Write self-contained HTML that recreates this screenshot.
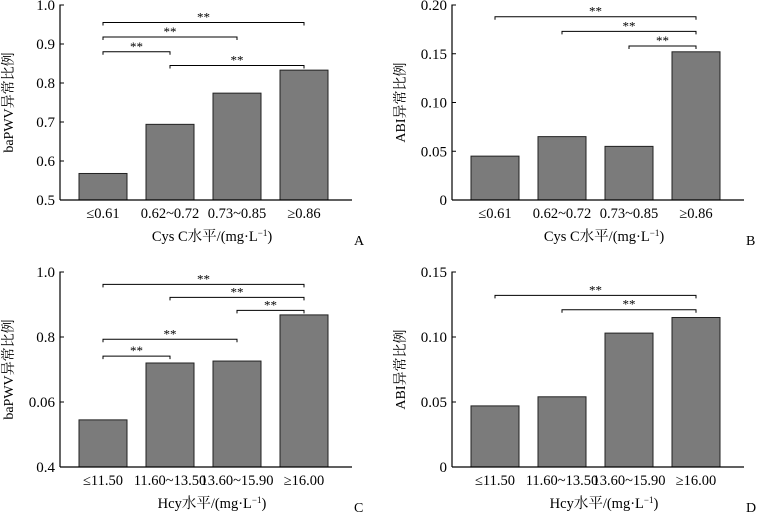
<!DOCTYPE html>
<html><head><meta charset="utf-8">
<style>
html,body{margin:0;padding:0;background:#fff;}
svg{display:block;font-family:"Liberation Serif","Noto Serif CJK SC",serif;}
</style></head>
<body>
<svg id="chart" width="759" height="512" viewBox="0 0 759 512" xmlns="http://www.w3.org/2000/svg"></svg>
<script>
const cysCategories = ["≤0.61","0.62~0.72","0.73~0.85","≥0.86"];
const hcyCategories = ["≤11.50","11.60~13.50","13.60~15.90","≥16.00"];
const valuesA = [0.568, 0.694, 0.774, 0.833];
const valuesB = [0.045, 0.065, 0.055, 0.152];
const valuesC = [0.545, 0.720, 0.726, 0.868];
const valuesD = [0.047, 0.054, 0.103, 0.115];
const ticksA = [0.5,0.6,0.7,0.8,0.9,1.0];
const tickLabelsA = ["0.5","0.6","0.7","0.8","0.9","1.0"];
const ticksB = [0,0.05,0.10,0.15,0.20];
const tickLabelsB = ["0","0.05","0.10","0.15","0.20"];
const ticksC = [0.4,0.6,0.8,1.0];
const tickLabelsC = ["0.4","0.06","0.8","1.0"];
const ticksD = [0,0.05,0.10,0.15];
const tickLabelsD = ["0","0.05","0.10","0.15"];
// significance brackets: [fromIndex, toIndex, level value]
const sigA = [[0,3,0.955],[0,2,0.918],[0,1,0.880],[1,3,0.845]];
const sigB = [[0,3,0.188],[1,3,0.173],[2,3,0.158]];
const sigC = [[0,3,0.962],[1,3,0.922],[2,3,0.882],[0,2,0.793],[0,1,0.741]];
const sigD = [[0,3,0.132],[1,3,0.121]];

const NS="http://www.w3.org/2000/svg";
const svg=document.getElementById('chart');
function mk(tag,attrs,parent){const e=document.createElementNS(NS,tag);for(const k in attrs)e.setAttribute(k,attrs[k]);(parent||svg).appendChild(e);return e;}

function panel(o){
  const g=mk('g',{});
  
  
  const y=v=>o.y1+(o.y0-o.y1)*(v-o.min)/(o.max-o.min);
  const step=67, bw=48;
  const bx=i=>o.ax+19+i*step;
  const cx=i=>bx(i)+bw/2;
  const ya=mk('line',{x1:o.ax,y1:o.y1,x2:o.ax,y2:o.y0-0.5,stroke:'#000','stroke-width':1.2},g);
  
  
  o.ticks.forEach((t,i)=>{
    mk('line',{x1:o.ax,x2:o.ax+4,y1:y(t),y2:y(t),stroke:'#000','stroke-width':1},g);
    const tx=mk('text',{x:o.ax-5,y:y(t)+5,'text-anchor':'end','font-size':15},g);
    tx.textContent=o.tickLabels[i];
    
    
  });
  o.values.forEach((v,i)=>{
    const r=mk('rect',{x:bx(i),y:y(v),width:bw,height:o.y1-y(v),fill:'#7b7b7b',stroke:'#222','stroke-width':1},g);
    
    
    const tx=mk('text',{x:cx(i),y:o.y1+18,'text-anchor':'middle','font-size':14.5},g);
    tx.textContent=o.cats[i];
    
    
  });
  const xa=mk('line',{x1:o.ax,y1:o.y1,x2:o.ax+292,y2:o.y1,stroke:'#000','stroke-width':1.2},g);
  
  
  o.sig.forEach(s=>{
    const yy=y(s[2]);
    const x1=cx(s[0]), x2=cx(s[1]);
    const p=mk('path',{d:`M${x1},${yy+3}V${yy}H${x2}V${yy+3}`,fill:'none',stroke:'#000','stroke-width':1},g);
    
    
    const st=mk('text',{x:(x1+x2)/2,y:yy-1,'text-anchor':'middle','font-size':13},g);
    st.textContent='**';
    
    
  });
  const yt=mk('text',{x:0,y:0,'text-anchor':'middle','font-size':14,transform:`translate(${o.ytx},${(o.y0+o.y1)/2}) rotate(-90)`},g);
  yt.textContent=o.ytitle;
  
  
  const xt=mk('text',{x:o.ax+152,y:o.y1+41,'text-anchor':'middle','font-size':14.5},g);
  xt.innerHTML=o.xtitle+'/(mg·L<tspan dy="-5" font-size="9">−1</tspan><tspan dy="5">)</tspan>';
  
  
  const lt=mk('text',{x:o.ax+294,y:o.y1+45,'font-size':14},g);
  lt.textContent=o.letter;
  
  
}
panel({letter:'A',ax:60,y0:5,y1:200,min:0.5,max:1.0,values:valuesA,ticks:ticksA,tickLabels:tickLabelsA,cats:cysCategories,sig:sigA,ytitle:'baPWV异常比例',ytx:13,xtitle:'Cys C水平'});
panel({letter:'B',ax:452,y0:5,y1:200,min:0,max:0.20,values:valuesB,ticks:ticksB,tickLabels:tickLabelsB,cats:cysCategories,sig:sigB,ytitle:'ABI异常比例',ytx:405,xtitle:'Cys C水平'});
panel({letter:'C',ax:60,y0:272,y1:467,min:0.4,max:1.0,values:valuesC,ticks:ticksC,tickLabels:tickLabelsC,cats:hcyCategories,sig:sigC,ytitle:'baPWV异常比例',ytx:13,xtitle:'Hcy水平'});
panel({letter:'D',ax:452,y0:272,y1:467,min:0,max:0.15,values:valuesD,ticks:ticksD,tickLabels:tickLabelsD,cats:hcyCategories,sig:sigD,ytitle:'ABI异常比例',ytx:405,xtitle:'Hcy水平'});
</script>
</body></html>
